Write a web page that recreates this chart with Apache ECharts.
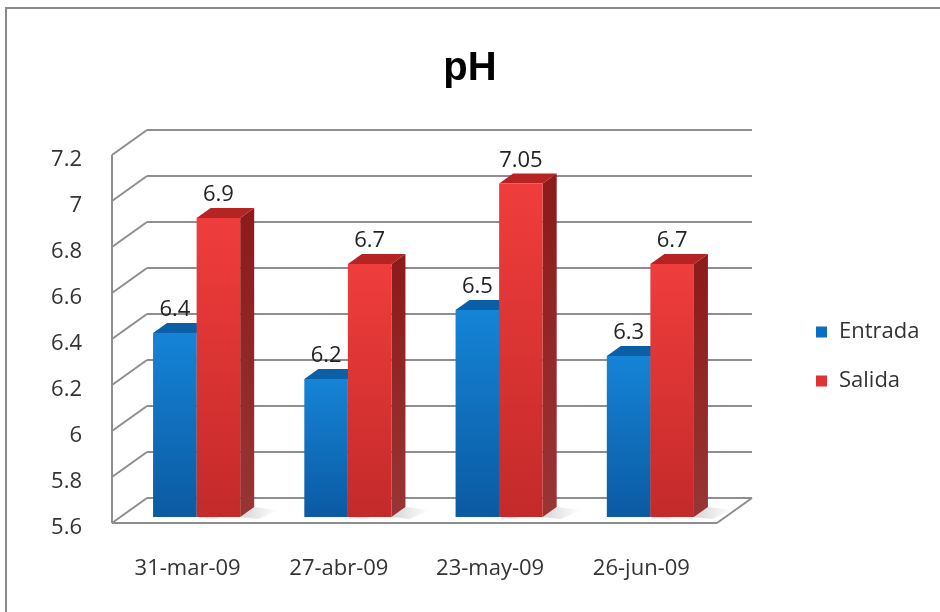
<!DOCTYPE html>
<html>
<head>
<meta charset="utf-8">
<script src="https://cdn.jsdelivr.net/npm/echarts@6/dist/echarts.min.js"></script>
<style>
  html, body { margin: 0; padding: 0; background: #fff; }
  #chart { width: 940px; height: 612px; }
</style>
</head>
<body>
<div id="chart"></div>
<script>
// pH readings at inlet and outlet, one pair per sampling date
const categories = ['31-mar-09', '27-abr-09', '23-may-09', '26-jun-09'];
const entrada = [6.4, 6.2, 6.5, 6.3];
const salida = [6.9, 6.7, 7.05, 6.7];
const yTicks = [5.6, 5.8, 6.0, 6.2, 6.4, 6.6, 6.8, 7.0, 7.2];

// Pseudo-3D geometry (pixel offsets relative to the bar plane)
const BAR_FRAC = 0.288;      // width of one bar as a share of the category band
const DEPTH_X = 14, DEPTH_Y = -10;   // bar depth
const BACK_X = 26, BACK_Y = -19;     // back wall
const FRONT_X = -9, FRONT_Y = 6;     // front edge of floor / left wall
const GRID_COLOR = '#8e8e8e';
const FONT = '"Open Sans", Lato, sans-serif';
const FONT_SIZE = 22;

const Y_MIN = yTicks[0];
const Y_MAX = yTicks[yTicks.length - 1];

const palettes = [
  { front: ['#1584d6', '#0b5aa2'], side: '#0a4f8c', top: '#0b5fa6', legend: '#0a6fc2' },
  { front: ['#ef3d3c', '#c42a2a'], side: '#8c1a1a', top: '#b52323', legend: '#e03232' }
];

function barRenderer(seriesIdx) {
  const pal = palettes[seriesIdx];
  const values = seriesIdx === 0 ? entrada : salida;
  return function (params, api) {
    const ci = api.value(0);
    const v = api.value(1);
    const topPt = api.coord([ci, v]);
    const basePt = api.coord([ci, Y_MIN]);
    const band = api.size([1, 0])[0];
    const w = band * BAR_FRAC;
    const x0 = seriesIdx === 0 ? topPt[0] - w : topPt[0];
    const x1 = x0 + w;
    const yT = topPt[1];
    const yB = basePt[1];
    return {
      type: 'group',
      children: [
        // soft shadow cast on the floor
        {
          type: 'polygon',
          shape: { points: [[x1, yB], [x1 + DEPTH_X, yB + DEPTH_Y], [x1 + DEPTH_X + 24, yB + DEPTH_Y + 3], [x1 + 18, yB + 2]] },
          style: {
            fill: new echarts.graphic.LinearGradient(0, 0, 1, 0, [
              { offset: 0, color: 'rgba(0,0,0,0.16)' },
              { offset: 1, color: 'rgba(0,0,0,0)' }
            ])
          },
          z2: 0
        },
        {
          type: 'polygon',
          shape: { points: [[x1, yT], [x1 + DEPTH_X, yT + DEPTH_Y], [x1 + DEPTH_X, yB + DEPTH_Y], [x1, yB]] },
          style: {
            fill: new echarts.graphic.LinearGradient(0, 0, 0, 1, [
              { offset: 0, color: pal.side },
              { offset: 1, color: echarts.color.lift(pal.side, 0.12) }
            ])
          },
          z2: 1
        },
        {
          type: 'polygon',
          shape: { points: [[x0, yT], [x0 + DEPTH_X, yT + DEPTH_Y], [x1 + DEPTH_X, yT + DEPTH_Y], [x1, yT]] },
          style: { fill: pal.top },
          z2: 2
        },
        {
          type: 'rect',
          shape: { x: x0, y: yT, width: w, height: yB - yT },
          style: {
            fill: new echarts.graphic.LinearGradient(0, 0, 0, 1, [
              { offset: 0, color: pal.front[0] },
              { offset: 1, color: pal.front[1] }
            ])
          },
          z2: 3
        },
        {
          type: 'text',
          x: x0 + w / 2,
          y: yT - 12,
          style: {
            text: String(values[params.dataIndex]),
            fill: '#222',
            font: FONT_SIZE + 'px ' + FONT,
            align: 'center',
            verticalAlign: 'bottom'
          },
          z2: 4
        }
      ]
    };
  };
}

function gridRenderer(params, api) {
  const v = api.value(1);
  const band = api.size([1, 0])[0];
  const p = api.coord([0, v]);
  const xl = p[0] - band / 2;
  const xr = api.coord([categories.length - 1, v])[0] + band / 2;
  const y = p[1];
  const lineStyle = { stroke: GRID_COLOR, lineWidth: 2 };
  const children = [
    { type: 'line', shape: { x1: xl + BACK_X, y1: y + BACK_Y, x2: xr + BACK_X, y2: y + BACK_Y }, style: lineStyle },
    { type: 'line', shape: { x1: xl + FRONT_X, y1: y + FRONT_Y, x2: xl + BACK_X, y2: y + BACK_Y }, style: lineStyle }
  ];
  if (v === Y_MIN) {
    children.push(
      { type: 'line', shape: { x1: xl + FRONT_X, y1: y + FRONT_Y, x2: xr + FRONT_X, y2: y + FRONT_Y }, style: lineStyle },
      { type: 'line', shape: { x1: xr + FRONT_X, y1: y + FRONT_Y, x2: xr + BACK_X, y2: y + BACK_Y }, style: lineStyle }
    );
  }
  if (v === Y_MAX) {
    const yBase = api.coord([0, Y_MIN])[1];
    children.push(
      { type: 'line', shape: { x1: xl + FRONT_X, y1: y + FRONT_Y, x2: xl + FRONT_X, y2: yBase + FRONT_Y }, style: lineStyle }
    );
  }
  return { type: 'group', children: children };
}

const chart = echarts.init(document.getElementById('chart'), null, { renderer: 'canvas' });

chart.setOption({
  animation: false,
  backgroundColor: '#fff',
  graphic: [
    {
      type: 'rect',
      shape: { x: 6, y: 8, width: 960, height: 640 },
      style: { fill: 'none', stroke: '#8a8a8a', lineWidth: 2 },
      silent: true
    }
  ],
  title: {
    text: 'pH',
    left: 'center',
    top: 44,
    textStyle: { fontFamily: '"Liberation Sans", Arial, sans-serif', fontWeight: 'bold', fontSize: 40, color: '#000' }
  },
  legend: {
    data: ['Entrada', 'Salida'],
    orient: 'vertical',
    left: 811,
    top: 316,
    itemWidth: 11,
    itemHeight: 11,
    itemGap: 27,
    icon: 'rect',
    textStyle: { fontFamily: FONT, fontSize: FONT_SIZE, color: '#333', padding: [0, 0, 0, 7] }
  },
  grid: { left: 121, right: 214, top: 149, bottom: 95 },
  xAxis: {
    type: 'category',
    data: categories,
    axisLine: { show: false },
    axisTick: { show: false },
    axisLabel: {
      margin: 41,
      fontFamily: FONT,
      fontSize: FONT_SIZE,
      color: '#333',
      padding: [0, 18, 0, 0]
    }
  },
  yAxis: {
    type: 'value',
    min: Y_MIN,
    max: Y_MAX,
    interval: 0.2,
    axisLine: { show: false },
    axisTick: { show: false },
    splitLine: { show: false },
    axisLabel: {
      margin: 39,
      fontFamily: FONT,
      fontSize: FONT_SIZE,
      color: '#333',
      verticalAlign: 'top',
      lineHeight: 22,
      formatter: function (val) { return String(Math.round(val * 100) / 100); }
    }
  },
  series: [
    {
      type: 'custom',
      silent: true,
      clip: false,
      z: 1,
      renderItem: gridRenderer,
      encode: { x: 0, y: 1 },
      data: yTicks.map(function (t) { return [0, t]; })
    },
    {
      name: 'Entrada',
      type: 'custom',
      clip: false,
      z: 2,
      itemStyle: { color: palettes[0].legend },
      renderItem: barRenderer(0),
      encode: { x: 0, y: 1 },
      data: entrada.map(function (v, i) { return [i, v]; })
    },
    {
      name: 'Salida',
      type: 'custom',
      clip: false,
      z: 3,
      itemStyle: { color: palettes[1].legend },
      renderItem: barRenderer(1),
      encode: { x: 0, y: 1 },
      data: salida.map(function (v, i) { return [i, v]; })
    }
  ]
});
</script>
</body>
</html>
